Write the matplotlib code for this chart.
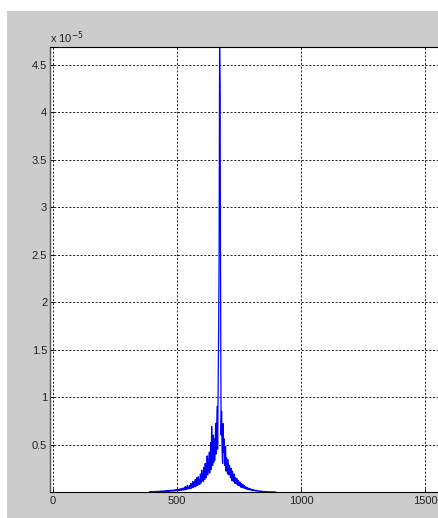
import matplotlib

matplotlib.use("Agg")
import matplotlib.pyplot as plt
import numpy as np
from matplotlib.patches import Rectangle

# spectrum magnitude (units of 1e-5), sampled every 2 bins starting at bin 390
bin_start = 390
bin_step = 2
magnitude = [
    0.003, 0.001, 0.004, 0.002, 0.005, 0.001, 0.003, 0.006, 0.002, 0.004,
    0.005, 0.002, 0.006, 0.003, 0.007, 0.002, 0.005, 0.008, 0.003, 0.006,
    0.008, 0.003, 0.009, 0.005, 0.010, 0.004, 0.007, 0.011, 0.005, 0.009,
    0.012, 0.005, 0.010, 0.014, 0.006, 0.011, 0.015, 0.007, 0.013, 0.009,
    0.016, 0.008, 0.014, 0.019, 0.009, 0.017, 0.012, 0.021, 0.010, 0.018,
    0.022, 0.011, 0.019, 0.026, 0.013, 0.024, 0.017, 0.029, 0.014, 0.025,
    0.031, 0.016, 0.027, 0.036, 0.018, 0.033, 0.024, 0.041, 0.020, 0.035,
    0.045, 0.022, 0.058, 0.032, 0.026, 0.047, 0.070, 0.030, 0.044, 0.041,
    0.068, 0.034, 0.050, 0.092, 0.040, 0.062, 0.052, 0.110, 0.045, 0.073,
    0.105, 0.055, 0.132, 0.085, 0.062, 0.150, 0.095, 0.070, 0.160, 0.088,
    0.125, 0.080, 0.190, 0.140, 0.095, 0.230, 0.125, 0.170, 0.110, 0.260,
    0.180, 0.130, 0.300, 0.210, 0.150, 0.250, 0.380, 0.180, 0.240, 0.330,
    0.420, 0.200, 0.300, 0.520, 0.240, 0.690, 0.350, 0.280, 0.600, 0.310,
    0.560, 0.330, 0.480, 0.720, 0.400, 0.640, 0.900, 0.450, 1.050, 1.680,
    2.520, 4.690, 4.180, 2.090, 0.600, 0.850, 0.450, 0.300, 0.720, 0.420,
    0.560, 0.280, 0.400, 0.480, 0.220, 0.360, 0.300, 0.190, 0.340, 0.250,
    0.180, 0.280, 0.210, 0.150, 0.250, 0.170, 0.120, 0.220, 0.140, 0.110,
    0.190, 0.130, 0.090, 0.150, 0.110, 0.085, 0.140, 0.095, 0.070, 0.120,
    0.085, 0.065, 0.105, 0.070, 0.050, 0.088, 0.062, 0.045, 0.078, 0.055,
    0.040, 0.066, 0.046, 0.034, 0.055, 0.040, 0.029, 0.047, 0.034, 0.025,
    0.040, 0.029, 0.021, 0.034, 0.025, 0.018, 0.029, 0.021, 0.015, 0.024,
    0.018, 0.013, 0.020, 0.015, 0.011, 0.017, 0.012, 0.009, 0.014, 0.010,
    0.008, 0.012, 0.008, 0.006, 0.010, 0.007, 0.005, 0.008, 0.005, 0.004,
    0.004, 0.006, 0.003, 0.005, 0.003, 0.002, 0.004, 0.002, 0.003, 0.002,
    0.002, 0.003, 0.001, 0.002, 0.001, 0.002, 0.001, 0.001, 0.001, 0.001,
    0.001, 0.001, 0.000, 0.001, 0.000,
]
x_ticks = [0, 500, 1000, 1500]
y_ticks = [0.5, 1, 1.5, 2, 2.5, 3, 3.5, 4, 4.5]

bins = bin_start + bin_step * np.arange(len(magnitude))
values = np.array(magnitude) * 1e-5

W, H = 438, 518
plt.rcParams["font.family"] = ["Liberation Sans", "DejaVu Sans"]
fig = plt.figure(figsize=(W / 100, H / 100), dpi=100, facecolor="white")
# grey window background, offset from the top-left corner
fig.patches.append(
    Rectangle((7 / W, 0), 1, (H - 11) / H, transform=fig.transFigure,
              facecolor="#cccccc", edgecolor="none", zorder=-1)
)

# axes spans past the right edge of the figure
left, right, top, bottom = 50, 445, 46.5, 492
ax = fig.add_axes([left / W, 1 - bottom / H, (right - left) / W, (bottom - top) / H])
ax.set_facecolor("white")
ax.plot(bins, values, color="#0000ff", lw=0.9)

ax.set_xlim(-12, 1581)
ax.set_ylim(0, 4.69e-5)
ax.set_xticks(x_ticks)
ax.set_xticklabels([str(t) for t in x_ticks])
ax.set_yticks([t * 1e-5 for t in y_ticks])
ax.set_yticklabels([f"{t:g}" for t in y_ticks])
ax.tick_params(direction="in", length=3, width=0.6, labelsize=8, pad=3,
               color="black", labelcolor="#222222")
ax.tick_params(axis="y", pad=2)
ax.grid(True, color="black", linestyle=(0, (2.5, 2)), linewidth=0.6)
for side in ("top", "bottom"):
    ax.spines[side].set_color("black")
    ax.spines[side].set_linewidth(0.8)
ax.spines["left"].set_color("#555555")
ax.spines["left"].set_linewidth(1.0)
ax.spines["right"].set_visible(False)

fig.text(50 / W, 1 - 38 / H, r"x 10$^{-5}$", fontsize=8, ha="left", va="center",
         color="#222222", math_fontfamily="dejavusans")

fig.savefig("out.png", dpi=100, facecolor="white")
